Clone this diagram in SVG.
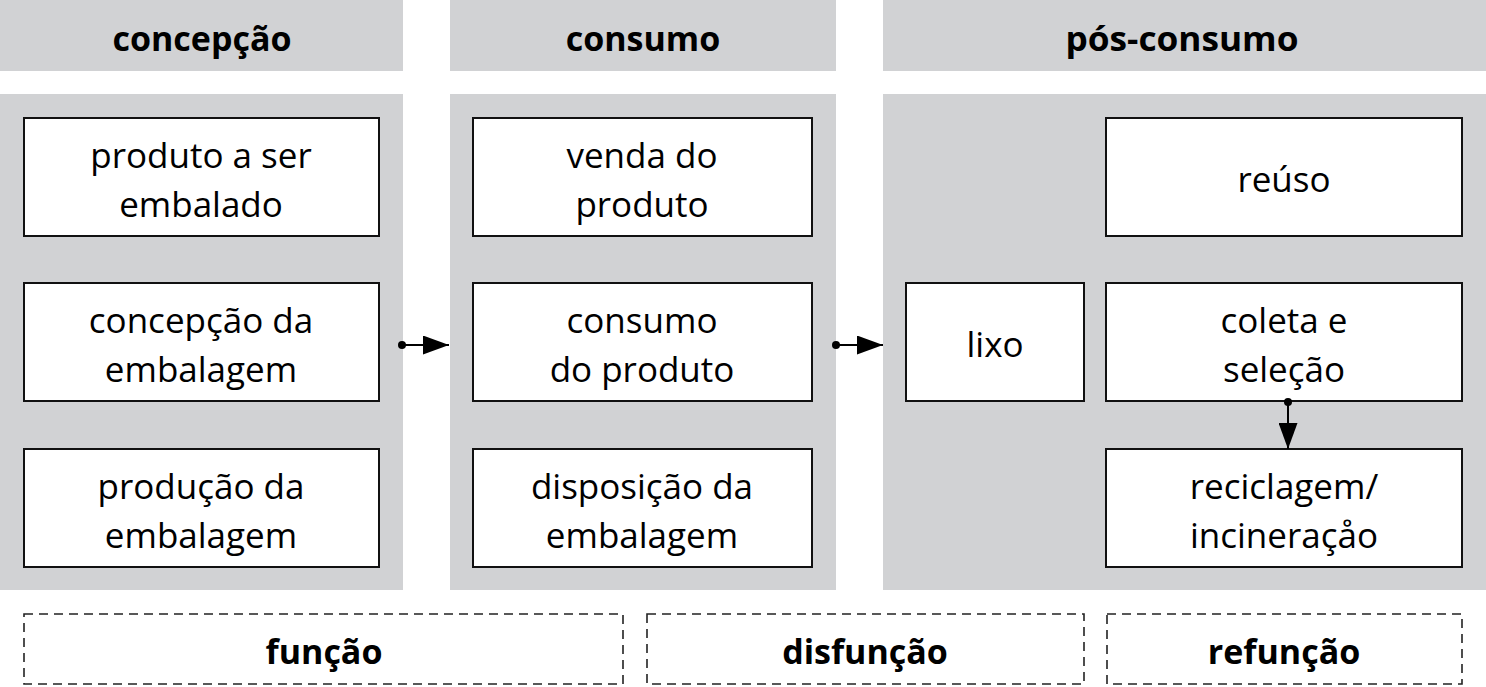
<svg xmlns="http://www.w3.org/2000/svg" width="1486" height="687" viewBox="0 0 1486 687">
<defs>
<style>
.panel{fill:#d1d2d4}
.box{fill:#fff;stroke:#111;stroke-width:2}
.dash{fill:none;stroke:#222;stroke-width:1.6;stroke-dasharray:9 6}
.t{font-family:"Open Sans","Liberation Sans",sans-serif;font-size:35px;fill:#000;text-anchor:middle}
.h{font-family:"Open Sans","Liberation Sans",sans-serif;font-size:34px;font-weight:bold;fill:#000;text-anchor:middle}
.conn{stroke:#000;stroke-width:2;fill:none}
</style>
<marker id="tri" markerUnits="userSpaceOnUse" viewBox="0 0 26 19" refX="26" refY="9.5" markerWidth="26" markerHeight="19" orient="auto">
<path d="M0,0 L26,9.5 L0,19 Z" fill="#000"/>
</marker>
<marker id="dot" markerUnits="userSpaceOnUse" viewBox="0 0 9 9" refX="4.5" refY="4.5" markerWidth="9" markerHeight="9">
<circle cx="4.5" cy="4.5" r="4" fill="#000"/>
</marker>
</defs>
<rect width="1486" height="687" fill="#fff"/>

<g id="col-concepcao">
<rect class="panel" x="0" y="0" width="403" height="71"/>
<text class="h" x="202" y="51">concepção</text>
<rect class="panel" x="0" y="94" width="403" height="496"/>
</g>
<g id="col-consumo">
<rect class="panel" x="450" y="0" width="386" height="71"/>
<text class="h" x="643" y="51">consumo</text>
<rect class="panel" x="450" y="94" width="386" height="496"/>
</g>
<g id="col-poscons">
<rect class="panel" x="883" y="0" width="603" height="71"/>
<text class="h" x="1182" y="51" textLength="233" lengthAdjust="spacingAndGlyphs">pós-consumo</text>
<rect class="panel" x="883" y="94" width="603" height="496"/>
</g>

<g id="n-produto">
<rect class="box" x="24" y="118" width="355" height="118"/>
<text class="t" x="201" y="168">produto a ser</text>
<text class="t" x="201" y="217">embalado</text>
</g>
<g id="n-concepcao-emb">
<rect class="box" x="24" y="283" width="355" height="118"/>
<text class="t" x="201" y="333">concepção da</text>
<text class="t" x="201" y="382">embalagem</text>
</g>
<g id="n-producao-emb">
<rect class="box" x="24" y="449" width="355" height="118"/>
<text class="t" x="201" y="499">produção da</text>
<text class="t" x="201" y="548">embalagem</text>
</g>

<g id="n-venda">
<rect class="box" x="473" y="118" width="339" height="118"/>
<text class="t" x="642" y="168">venda do</text>
<text class="t" x="642" y="217">produto</text>
</g>
<g id="n-consumo-prod">
<rect class="box" x="473" y="283" width="339" height="118"/>
<text class="t" x="642" y="333">consumo</text>
<text class="t" x="642" y="382">do produto</text>
</g>
<g id="n-disposicao">
<rect class="box" x="473" y="449" width="339" height="118"/>
<text class="t" x="642" y="499">disposição da</text>
<text class="t" x="642" y="548">embalagem</text>
</g>

<g id="n-lixo">
<rect class="box" x="906" y="283" width="178" height="118"/>
<text class="t" x="995" y="357">lixo</text>
</g>
<g id="n-reuso">
<rect class="box" x="1106" y="118" width="356" height="118"/>
<text class="t" x="1284" y="192">reúso</text>
</g>
<g id="n-coleta">
<rect class="box" x="1106" y="283" width="356" height="118"/>
<text class="t" x="1284" y="333">coleta e</text>
<text class="t" x="1284" y="382">seleção</text>
</g>
<g id="n-reciclagem">
<rect class="box" x="1106" y="449" width="356" height="118"/>
<text class="t" x="1284" y="499">reciclagem/</text>
<text class="t" x="1284" y="548">incineraçåo</text>
</g>

<g id="connectors">
<line class="conn" x1="402" y1="345" x2="449" y2="345" marker-start="url(#dot)" marker-end="url(#tri)"/>
<line class="conn" x1="836" y1="345" x2="883" y2="345" marker-start="url(#dot)" marker-end="url(#tri)"/>
<line class="conn" x1="1288" y1="402" x2="1288" y2="449" marker-start="url(#dot)" marker-end="url(#tri)"/>
</g>

<g id="l-funcao">
<rect class="dash" x="24" y="614" width="599" height="70"/>
<text class="h" x="324" y="664">função</text>
</g>
<g id="l-disfuncao">
<rect class="dash" x="647" y="614" width="437" height="70"/>
<text class="h" x="865" y="664">disfunção</text>
</g>
<g id="l-refuncao">
<rect class="dash" x="1107" y="614" width="355" height="70"/>
<text class="h" x="1284" y="664">refunção</text>
</g>
</svg>
